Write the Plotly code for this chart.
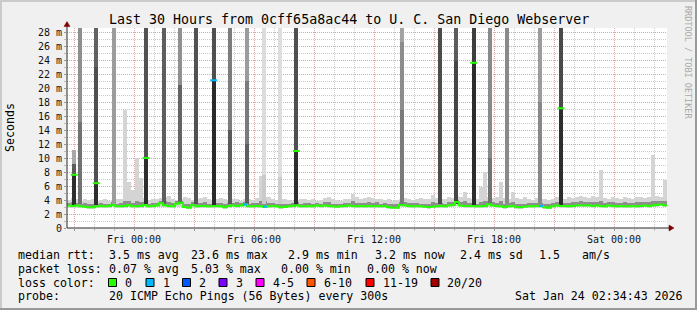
import pandas as pd
import plotly.graph_objects as go

# ---------------- data ----------------
START = "2026-01-22 20:39"
STEP_MIN = 12
END = "2026-01-24 02:39"

BASE_MEDIAN = [
    3.2, 3.15, 3.2, 3.1, 3.05, 2.95, 2.95, 3.1, 3.15, 3.1,
    3.15, 3.3, 3.1, 3.1, 3.15, 3.25, 3.1, 3.1, 3.15, 3.3,
    3.1, 3.15, 3.2, 3.55, 3.25, 3.15, 3.1, 3.45, 3.6, 3.0,
    2.9, 3.25, 3.1, 3.15, 3.15, 3.1, 3.1, 3.15, 3.1, 2.95,
    3.15, 3.2, 3.15, 3.2, 3.35, 3.1, 3.1, 3.15, 3.1, 3.05,
    3.1, 3.15, 3.1, 2.95, 3.0, 3.1, 3.15, 3.25, 3.1, 3.1,
    3.15, 3.1, 3.2, 3.15, 3.2, 3.15, 3.1, 3.05, 3.1, 3.15,
    3.2, 3.15, 3.1, 3.15, 3.1, 3.15, 3.1, 3.15, 3.1, 3.1,
    3.0, 2.9, 2.9, 3.3, 3.25, 3.15, 3.1, 3.15, 3.1, 3.05,
    3.0, 3.05, 3.1, 3.15, 3.1, 3.2, 3.3, 3.7, 3.2, 3.15,
    3.15, 3.15, 3.1, 3.1, 3.15, 3.4, 3.2, 3.15, 3.1, 3.0,
    3.1, 3.15, 3.0, 2.95, 3.05, 3.1, 3.1, 3.15, 3.15, 2.95,
    2.9, 3.1, 3.2, 3.15, 3.15, 3.1, 3.15, 3.2, 3.25, 3.2,
    3.25, 3.15, 3.2, 3.15, 3.1, 3.2, 3.15, 3.1, 3.15, 3.1,
    3.1, 3.15, 3.1, 3.15, 3.2, 3.15, 3.2, 3.3, 3.35, 3.25,
]
BASE_MIN = [
    2.9, 2.85, 2.9, 2.8, 2.8, 2.75, 2.75, 2.85, 2.9, 2.85,
    2.9, 2.95, 2.85, 2.85, 2.9, 2.95, 2.85, 2.85, 2.9, 2.95,
    2.85, 2.9, 2.95, 3.05, 2.95, 2.9, 2.85, 3.0, 3.05, 2.8,
    2.7, 2.9, 2.85, 2.9, 2.9, 2.85, 2.85, 2.9, 2.85, 2.75,
    2.9, 2.95, 2.9, 2.95, 3.0, 2.85, 2.85, 2.9, 2.85, 2.8,
    2.85, 2.9, 2.85, 2.75, 2.8, 2.85, 2.9, 2.95, 2.85, 2.85,
    2.9, 2.85, 2.95, 2.9, 2.95, 2.9, 2.85, 2.8, 2.85, 2.9,
    2.95, 2.9, 2.85, 2.9, 2.85, 2.9, 2.85, 2.9, 2.85, 2.85,
    2.75, 2.65, 2.65, 3.0, 2.95, 2.9, 2.85, 2.9, 2.85, 2.8,
    2.75, 2.8, 2.85, 2.9, 2.85, 2.95, 3.0, 3.1, 2.95, 2.9,
    2.9, 2.9, 2.85, 2.85, 2.9, 3.0, 2.95, 2.9, 2.85, 2.75,
    2.85, 2.9, 2.75, 2.7, 2.8, 2.85, 2.85, 2.9, 2.9, 2.7,
    2.65, 2.85, 2.95, 2.9, 2.9, 2.85, 2.9, 2.95, 3.0, 2.95,
    3.0, 2.9, 2.95, 2.9, 2.85, 2.95, 2.9, 2.85, 2.9, 2.85,
    2.85, 2.9, 2.85, 2.9, 2.95, 2.9, 2.95, 3.05, 3.1, 3.0,
]
BASE_Q75 = [
    3.6, 3.7, 3.6, 3.5, 3.6, 3.4, 3.5, 3.5, 3.6, 3.5,
    3.5, 3.7, 3.5, 3.6, 3.9, 3.8, 3.6, 3.8, 3.7, 3.7,
    3.5, 3.6, 3.6, 3.9, 3.8, 3.7, 3.6, 3.8, 3.9, 3.5,
    3.5, 3.7, 3.6, 3.6, 3.7, 3.5, 3.5, 3.6, 3.6, 3.5,
    3.6, 3.6, 3.7, 3.6, 3.7, 3.5, 3.6, 3.6, 3.9, 3.8,
    3.6, 3.6, 3.5, 3.4, 3.5, 3.5, 3.6, 3.7, 3.5, 3.6,
    3.6, 3.5, 3.6, 3.5, 3.7, 3.7, 3.5, 3.5, 3.5, 3.6,
    3.6, 3.8, 3.6, 3.6, 3.6, 3.7, 3.6, 3.7, 3.5, 3.6,
    3.5, 3.4, 3.4, 3.7, 3.7, 3.6, 3.6, 3.6, 3.5, 3.5,
    3.5, 3.7, 3.6, 3.6, 3.5, 3.7, 3.7, 4.0, 3.7, 3.8,
    3.6, 3.6, 3.5, 3.7, 3.9, 3.8, 3.7, 3.6, 3.8, 3.5,
    3.6, 3.7, 3.5, 3.4, 3.5, 3.6, 3.6, 3.6, 3.6, 3.4,
    3.4, 3.6, 3.7, 3.6, 3.6, 3.6, 3.7, 3.7, 3.8, 3.7,
    3.7, 3.7, 3.7, 3.9, 3.6, 3.7, 3.7, 3.6, 3.6, 3.7,
    3.6, 3.6, 3.7, 3.7, 3.7, 3.7, 3.9, 3.8, 3.9, 3.8,
]
BASE_MAX = [
    4.0, 4.3, 4.1, 3.9, 4.2, 4.0, 4.1, 3.9, 4.0, 4.1,
    3.9, 4.0, 4.1, 4.2, 16.9, 6.6, 5.4, 10.0, 7.1, 4.3,
    4.0, 4.2, 4.1, 4.3, 4.4, 4.6, 4.2, 4.0, 4.2, 4.4,
    4.3, 4.0, 4.2, 4.3, 4.4, 4.1, 4.0, 4.1, 4.3, 4.2,
    4.0, 4.1, 4.2, 3.9, 4.1, 4.2, 4.0, 4.3, 7.5, 4.5,
    4.5, 4.1, 4.0, 4.2, 4.1, 4.0, 3.9, 4.0, 4.2, 4.2,
    4.0, 4.1, 3.9, 4.0, 4.3, 4.5, 4.1, 4.0, 3.9, 4.1,
    4.2, 4.8, 4.4, 4.1, 4.3, 4.5, 4.3, 4.2, 4.1, 4.0,
    4.1, 3.9, 4.0, 4.2, 4.3, 4.1, 4.0, 4.2, 4.3, 4.1,
    4.2, 4.7, 4.3, 4.1, 4.2, 4.4, 4.3, 4.6, 4.4, 5.2,
    4.3, 4.1, 4.2, 5.8, 8.0, 4.4, 4.3, 4.5, 6.6, 4.3,
    4.2, 5.2, 4.3, 4.1, 4.4, 4.2, 4.0, 4.3, 4.2, 4.1,
    4.0, 4.2, 4.4, 4.3, 4.2, 4.5, 4.3, 4.4, 4.6, 4.4,
    4.3, 4.6, 4.4, 8.3, 4.3, 4.2, 4.4, 4.3, 4.2, 4.5,
    4.3, 4.1, 4.4, 4.5, 4.3, 4.4, 10.4, 4.6, 4.5, 6.9,
]
LOSS_STEPS = [44, 49, 118]
LOSS_COUNT = [1, 1, 1]

SPIKE_TIMES = [
    "2026-01-22 21:01", "2026-01-22 21:17", "2026-01-22 22:07", "2026-01-22 22:59",
    "2026-01-23 00:36", "2026-01-23 01:31", "2026-01-23 02:17", "2026-01-23 03:07",
    "2026-01-23 03:59", "2026-01-23 04:47", "2026-01-23 05:38", "2026-01-23 06:31",
    "2026-01-23 07:17", "2026-01-23 08:07", "2026-01-23 13:23", "2026-01-23 15:18",
    "2026-01-23 16:07", "2026-01-23 16:59", "2026-01-23 17:48", "2026-01-23 18:38",
    "2026-01-23 20:18", "2026-01-23 21:21",
]
SPIKE_MEDIAN = [7.6, None, 6.4, None, 10.0, None, None, None, 21.1, None, None,
                None, None, 11.0, None, None, None, 23.6, None, None, None, 17.1]
SPIKE_MEDIAN_LOSS = [0, 0, 0, 0, 0, 0, 0, 0, 1, 0, 0, 0, 0, 0, 0, 0, 0, 0, 0, 0, 0, 0]
SPIKE_LEVELS = [
    [3.3, 7.6, 9.2, 11.1], [3.4, 15.2, 40], [3.3, 6.4, 23.0, 40], [3.4, 40],
    [3.3, 10.0, 40], [3.4, 40], [3.4, 20.5, 40], [3.4, 40],
    [3.3, 21.1, 40], [3.4, 14.0, 40], [3.4, 12.0, 21.0, 40], [3.4, 7.6, 40],
    [3.4, 7.3, 40], [3.3, 11.0, 40], [3.4, 16.9, 26.6, 40], [3.4, 40],
    [3.4, 23.8, 40], [3.3, 23.6, 40], [3.4, 10.0, 40], [3.4, 40],
    [3.4, 18.0, 40], [3.3, 17.1, 40],
]

Y_TICKS = list(range(0, 29, 2))
Y_TICK_TEXT = ["0"] + [f"{v} m" for v in Y_TICKS[1:]]

TITLE = "Last 30 Hours from 0cff65a8ac44 to U. C. San Diego Webserver"
STAT_ROWS = [
    ["median rtt:", "3.5 ms avg", "23.6 ms max", "2.9 ms min", "3.2 ms now", "2.4 ms sd", "1.5", "am/s"],
    ["packet loss:", "0.07 % avg", "5.03 % max", "0.00 % min", "0.00 % now"],
    ["probe:", "20 ICMP Echo Pings (56 Bytes) every 300s", "Sat Jan 24 02:34:43 2026"],
]
LOSS_LABELS = ["0", "1", "2", "3", "4-5", "6-10", "11-19", "20/20"]

# ---------------- styles ----------------
LOSS_COLORS = ["#26ff00", "#00b8ff", "#0059ff", "#7e00ff", "#ff00ff", "#ff5500", "#ff0000", "#a10000"]
SPIKE_SHADES = [
    ["#2e2e2e", "#5c5c5c", "#a8a8a8"], ["#727272", "#8e8e8e"], ["#2e2e2e", "#505050", "#626262"], ["#9c9c9c"],
    ["#2e2e2e", "#525252"], ["#5e5e5e"], ["#646464", "#909090"], ["#525252"],
    ["#2a2a2a", "#505050"], ["#5a5a5a", "#7c7c7c"], ["#5e5e5e", "#7a7a7a", "#9c9c9c"], ["#cacaca", "#dcdcdc"],
    ["#cccccc", "#dedede"], ["#2e2e2e", "#505050"], ["#7a7a7a", "#8c8c8c", "#a2a2a2"], ["#4c4c4c"],
    ["#464646", "#5c5c5c"], ["#2c2c2c", "#3e3e3e"], ["#727272", "#8a8a8a"], ["#8a8a8a"],
    ["#888888", "#9c9c9c"], ["#2e2e2e", "#4a4a4a"],
]
FONT = "DejaVu Sans Mono"
W, H = 697, 310
PL, PR, PT, PB = 67, 667, 28, 228   # plot area in pixels
Y_TOP = 28.5714


def px(x):
    return (x - PL) / (PR - PL)


def py(y):
    return (PB - y) / (PB - PT)


step = pd.Timedelta(minutes=STEP_MIN)
step_ms = STEP_MIN * 60 * 1000
n = len(BASE_MEDIAN)
starts = [pd.Timestamp(START) + i * step for i in range(n)]
centers = [s + step / 2 for s in starts]

fig = go.Figure()

# outer smoke (light)
fig.add_trace(go.Bar(x=centers, base=BASE_MIN, y=[h - l for h, l in zip(BASE_MAX, BASE_MIN)],
                     width=[step_ms] * n, marker=dict(color="#d4d4d4", line=dict(width=0)),
                     hoverinfo="skip"))
# inner smoke (darker)
fig.add_trace(go.Bar(x=centers, base=BASE_MEDIAN, y=[q - m for q, m in zip(BASE_Q75, BASE_MEDIAN)],
                     width=[step_ms] * n, marker=dict(color="#8e8e8e", line=dict(width=0)),
                     hoverinfo="skip"))

# spikes
sx, sb, sh, sc = [], [], [], []
for t, lev, shades in zip(SPIKE_TIMES, SPIKE_LEVELS, SPIKE_SHADES):
    for j in range(len(lev) - 1):
        sx.append(pd.Timestamp(t))
        sb.append(lev[j])
        sh.append(lev[j + 1] - lev[j])
        sc.append(shades[j])
fig.add_trace(go.Bar(x=sx, base=sb, y=sh, width=[step_ms] * len(sx),
                     marker=dict(color=sc, line=dict(width=0)), hoverinfo="skip"))

# median line (loss 0 colour)
mx = starts + [starts[-1] + step]
my = BASE_MEDIAN + [BASE_MEDIAN[-1]]
fig.add_trace(go.Scatter(x=mx, y=my, mode="lines", line=dict(color=LOSS_COLORS[0], width=2, shape="hv"),
                         hoverinfo="skip"))
# loss-coloured median steps
for k, c in zip(LOSS_STEPS, LOSS_COUNT):
    fig.add_trace(go.Scatter(x=[starts[k], starts[k] + step], y=[BASE_MEDIAN[k]] * 2, mode="lines",
                             line=dict(color=LOSS_COLORS[c], width=2), hoverinfo="skip"))

# spike medians
mtx = [pd.Timestamp(t) for t, m in zip(SPIKE_TIMES, SPIKE_MEDIAN) if m is not None]
mty = [m for m in SPIKE_MEDIAN if m is not None]
mtc = [LOSS_COLORS[l] for l, m in zip(SPIKE_MEDIAN_LOSS, SPIKE_MEDIAN) if m is not None]
fig.add_trace(go.Scatter(x=mtx, y=mty, mode="markers",
                         marker=dict(symbol="line-ew", size=5, line=dict(width=2, color=mtc)),
                         hoverinfo="skip"))

# x ticks every 3 hours, labelled every 6
xt = pd.date_range("2026-01-22 21:00", "2026-01-24 00:00", freq="3h")
xt_text = [t.strftime("%a %H:%M") if t.hour % 6 == 0 else "" for t in xt]

MGRID = "rgba(240,140,140,0.6)"
GRID = "rgba(160,160,160,0.55)"

fig.update_layout(
    width=W, height=H, autosize=False,
    margin=dict(l=PL, r=W - PR, t=PT, b=H - PB, pad=0),
    paper_bgcolor="#f0f0f0", plot_bgcolor="#ffffff",
    showlegend=False, barmode="overlay", bargap=0,
    font=dict(family=FONT, size=10, color="#000000"),
    xaxis=dict(
        type="date", range=[START, END], tickmode="array", tickvals=list(xt), ticktext=xt_text,
        showgrid=True, gridcolor=MGRID, griddash="1px,1px", gridwidth=1,
        ticks="outside", ticklen=2, tickcolor="#999999",
        minor=dict(dtick=3600000, tick0="2026-01-22 21:00", showgrid=True, gridcolor=GRID,
                   griddash="1px,1px", gridwidth=1, ticks="outside", ticklen=2, tickcolor="#bbbbbb"),
        showline=False, zeroline=False, fixedrange=True,
        tickfont=dict(family=FONT, size=10, color="#111111"),
    ),
    yaxis=dict(
        range=[0, Y_TOP], tickmode="array", tickvals=Y_TICKS, ticktext=Y_TICK_TEXT,
        showgrid=True, gridcolor=MGRID, griddash="1px,1px", gridwidth=1,
        ticks="outside", ticklen=2, tickcolor="#999999",
        minor=dict(dtick=1, tick0=0, showgrid=True, gridcolor=GRID, griddash="1px,1px", gridwidth=1,
                   ticks="outside", ticklen=2, tickcolor="#bbbbbb"),
        showline=False, zeroline=False, fixedrange=True,
        tickfont=dict(family=FONT, size=10, color="#111111"),
    ),
)

shapes = []
AX = "#2a2a2a"
ARROW = "#7f0000"
# axes
shapes.append(dict(type="line", xref="paper", yref="paper", x0=px(67), x1=px(670), y0=py(228), y1=py(228),
                   line=dict(color=AX, width=1)))
shapes.append(dict(type="line", xref="paper", yref="paper", x0=px(67), x1=px(67), y0=py(228), y1=py(25),
                   line=dict(color=AX, width=1)))
# arrows
shapes.append(dict(type="path", xref="paper", yref="paper",
                   path=f"M {px(669)},{py(225)} L {px(669)},{py(231)} L {px(674)},{py(228)} Z",
                   fillcolor=ARROW, line=dict(color=ARROW, width=0.5)))
shapes.append(dict(type="path", xref="paper", yref="paper",
                   path=f"M {px(64)},{py(26.5)} L {px(70)},{py(26.5)} L {px(67)},{py(21.5)} Z",
                   fillcolor=ARROW, line=dict(color=ARROW, width=0.5)))
# frame
for (x0, y0, x1, y1, c) in [(0, 0, W, 2, "#cbcbcb"), (0, 0, 2, H, "#cbcbcb"),
                            (0, H - 2, W, H, "#999999"), (W - 2, 0, W, H, "#999999")]:
    shapes.append(dict(type="rect", xref="paper", yref="paper", x0=px(x0), x1=px(x1), y0=py(y0), y1=py(y1),
                       fillcolor=c, line=dict(width=0), layer="above"))

# loss colour swatches
SW_X = [108.5, 146, 182.5, 219, 256, 307, 366, 431]
LBL_X = [123.3, 161, 197.3, 234.3, 271, 322.3, 380.7, 445]
for x0, c in zip(SW_X, LOSS_COLORS):
    shapes.append(dict(type="rect", xref="paper", yref="paper", x0=px(x0), x1=px(x0 + 8),
                       y0=py(278.5), y1=py(286.5), fillcolor=c, line=dict(color="#000000", width=1)))
fig.update_layout(shapes=shapes)

ann = []


def text(x, y, s, size=11.6, color="#000000", xanchor="left", angle=0):
    ann.append(dict(x=px(x), y=py(y), xref="paper", yref="paper", text=s, showarrow=False,
                    xanchor=xanchor, yanchor="middle", textangle=angle,
                    font=dict(family=FONT, size=size, color=color)))


text(348.5, 19, TITLE, size=13.3, xanchor="center")
text(10, 128, "Seconds", size=11.6, xanchor="center", angle=-90)
text(688, 62, "RRDTOOL / TOBI OETIKER", size=8.5, color="#a8a8a8", xanchor="center", angle=90)

ROW1_X = [16, 107.3, 189.3, 286, 372.7, 458.3, 537.3, 580]
ROW2_X = [16, 107.3, 189.3, 279.3, 365]
ROW4_X = [16, 107.3, 513.3]
for xs, row, yy in [(ROW1_X, STAT_ROWS[0], 255), (ROW2_X, STAT_ROWS[1], 268.5), (ROW4_X, STAT_ROWS[2], 296)]:
    for x, s in zip(xs, row):
        text(x, yy, s)
text(16, 282.5, "loss color:")
for x, s in zip(LBL_X, LOSS_LABELS):
    text(x, 282.5, s)

fig.update_layout(annotations=ann)
fig.write_html("out.html", config={"displayModeBar": False, "staticPlot": True})
